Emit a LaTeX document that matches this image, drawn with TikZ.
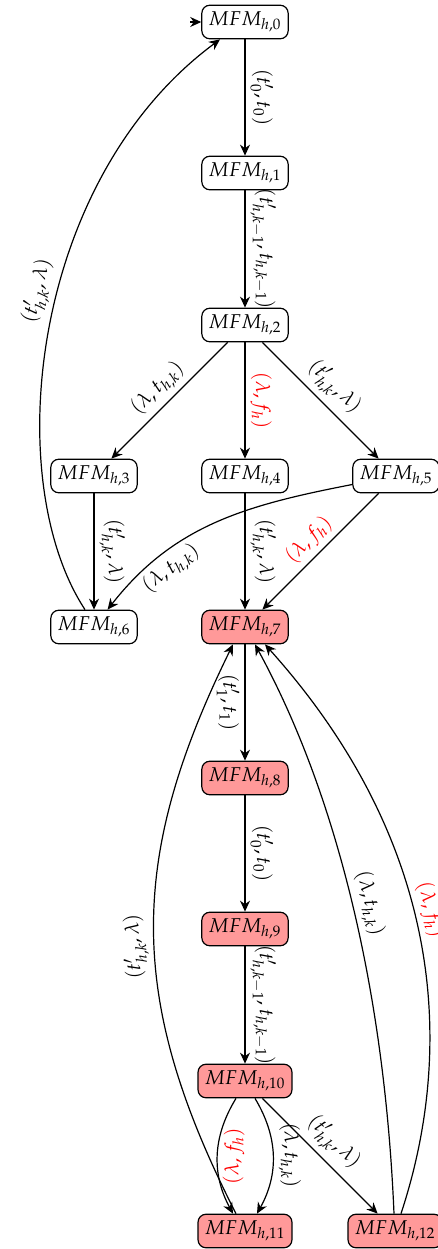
\documentclass[tikz,border=0pt]{standalone}
\usepackage{mathpazo}
\usetikzlibrary{arrows.meta,calc}
\begin{document}
\begin{tikzpicture}[x=0.5pt,y=0.5pt,
  st/.style={draw, rounded corners=4pt, line width=0.6pt, inner sep=3.3pt, fill=white},
  fin/.style={st, fill=red!40},
  e/.style={-{Stealth[length=5.5pt,width=5pt,inset=1.8pt]}, line width=0.6pt},
  lab/.style={sloped, auto, inner sep=2.5pt},
  rl/.style={lab, text=red}]
\useasboundingbox (0,0) rectangle (438,-1249);
\node[st]  (n0)  at (245,-22)   {$MFM_{h,0}$};
\node[st]  (n1)  at (245,-173)  {$MFM_{h,1}$};
\node[st]  (n2)  at (245,-325)  {$MFM_{h,2}$};
\node[st]  (n3)  at (94,-476)   {$MFM_{h,3}$};
\node[st]  (n4)  at (245,-476)  {$MFM_{h,4}$};
\node[st]  (n5)  at (396,-476)  {$MFM_{h,5}$};
\node[st]  (n6)  at (94,-627)   {$MFM_{h,6}$};
\node[fin] (n7)  at (245,-627)  {$MFM_{h,7}$};
\node[fin] (n8)  at (245,-778)  {$MFM_{h,8}$};
\node[fin] (n9)  at (245,-929)  {$MFM_{h,9}$};
\node[fin] (n10) at (245,-1081) {$MFM_{h,10}$};
\node[fin] (n11) at (245,-1231) {$MFM_{h,11}$};
\node[fin] (n12) at (395,-1231) {$MFM_{h,12}$};
\coordinate (s) at (190,-22);
\draw[e] (s) -- (n0);
\draw[e] (n0) -- node[lab]{$(t'_0,t_0)$} (n1);
\draw[e] (n1) -- node[lab]{$(t'_{h,k-1},t_{h,k-1})$} (n2);
\draw[e] (n2) -- node[lab]{$(\lambda,t_{h,k})$} (n3);
\draw[e] (n2) -- node[rl]{$(\lambda,f_h)$} (n4);
\draw[e] (n2) -- node[lab]{$(t'_{h,k},\lambda)$} (n5);
\draw[e] (n3) -- node[lab]{$(t'_{h,k},\lambda)$} (n6);
\draw[e] (n4) -- node[lab]{$(t'_{h,k},\lambda)$} (n7);
\draw[e] (n5) to[out=191,in=52] node[lab,swap,pos=0.74]{$(\lambda,t_{h,k})$} (n6);
\draw[e] (n5) -- node[rl]{$(\lambda,f_h)$} (n7);
\draw[e] ($(n6.north)+(-9,0)$) .. controls (0,-480) and (30,-180) .. node[lab,pos=0.55]{$(t'_{h,k},\lambda)$} ($(n0.south)+(-25,0)$);
\draw[e] (n7) -- node[lab,swap]{$(t'_1,t_1)$} (n8);
\draw[e] (n8) -- node[lab]{$(t'_0,t_0)$} (n9);
\draw[e] (n9) -- node[lab]{$(t'_{h,k-1},t_{h,k-1})$} (n10);
\draw[e] ($(n10.south)+(-9,0)$) to[bend right=30] node[rl,swap]{$(\lambda,f_h)$} ($(n11.north)+(-12,0)$);
\draw[e] ($(n10.south)+(10,0)$) to[bend left=30] node[lab]{$(\lambda,t_{h,k})$} ($(n11.north)+(12,0)$);
\draw[e] (n10) -- node[lab]{$(t'_{h,k},\lambda)$} (n12);
\draw[e] ($(n11.north)+(-9,0)$) .. controls (127,-1000) and (127,-860) .. node[lab,allow upside down,pos=0.47]{$(t'_{h,k},\lambda)$} ($(n7.south)+(-12,0)$);
\draw[e] ($(n12.north)+(-1,0)$) .. controls (385,-1000) and (340,-800) .. node[lab,pos=0.5]{$(\lambda,t_{h,k})$} ($(n7.south)+(10,0)$);
\draw[e] ($(n12.north)+(6,0)$) .. controls (455,-1050) and (445,-845) .. node[rl,pos=0.55]{$(\lambda,f_h)$} ($(n7.south)+(20,0)$);
\end{tikzpicture}
\end{document}
